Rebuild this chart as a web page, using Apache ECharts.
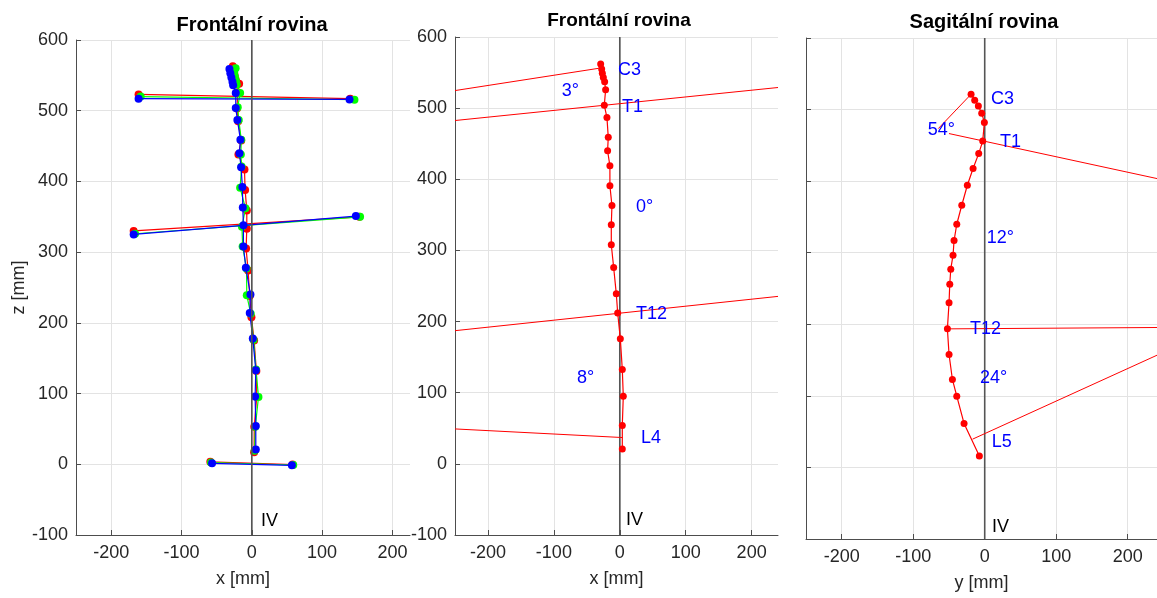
<!DOCTYPE html>
<html><head><meta charset="utf-8">
<script src="https://cdn.jsdelivr.net/npm/echarts@6/dist/echarts.min.js"></script>
<style>html,body{margin:0;padding:0;background:#fff}#c{width:1157px;height:598px}</style>
</head><body><div id="c"></div>
<script>
// ---------- DATA (x or y [mm], z [mm]) ----------
// Panel 1 – Frontální rovina, three measurements
const redSpine = [[-27,563],[-25.5,557],[-24.5,550],[-23,544],[-18,538],[-20,526],[-21,503],[-19.4,485],[-15,458],[-19,438],[-10.4,417],[-9.5,388],[-7.1,359],[-7.1,333],[-8.1,305],[-5.2,274],[-3,238],[-0.5,208],[3.3,175],[6.5,132],[7,95],[3.5,53],[3.3,17]];
const greenSpine = [[-23,560],[-25,554],[-24,548],[-22.5,542],[-21.5,537],[-16.6,525],[-20,505],[-18.5,487],[-15,459],[-15.6,438],[-14.5,421],[-16.6,391],[-9,362],[-14,336],[-13,308],[-7.5,277],[-7.1,239],[-1.5,213],[2.5,176],[6,134],[9.5,95],[5,53],[4,19]];
const blueSpine = [[-31.8,559],[-30.5,553],[-29,547],[-27.5,541],[-26.5,536],[-22.8,525],[-22.8,504],[-20.5,487],[-16.2,459],[-17.6,440],[-15.2,420],[-13.4,392],[-12.8,363],[-11.9,338],[-11.9,308],[-8.5,278],[-1.9,240],[-2.9,214],[1.4,178],[5.7,133],[4.7,96],[5.7,54],[5.7,21]];
const redShoulders = [[-161,523],[140,517]];
const greenShoulders = [[-158,520],[146,515.5]];
const blueShoulders = [[-161,517],[139,516]];
const redScapulae = [[-168,330],[153,350]];
const greenScapulae = [[-166,326],[154,350]];
const blueScapulae = [[-168,325],[148,351]];
const redPelvis = [[-59,3.5],[58,-0.3]];
const greenPelvis = [[-58,2.5],[59,-1]];
const bluePelvis = [[-56.5,1.4],[57,-1.4]];

// Panel 2 – Frontální rovina (spine + reference lines)
const frontSpine = [[-29,562],[-27.5,555],[-26.5,549],[-25,543],[-23,537],[-21.5,526],[-23.5,504],[-19.5,487],[-17.5,459],[-18.5,440],[-15,419],[-15,391],[-11.9,363],[-12.9,336],[-12.9,308],[-9.3,276],[-5.3,239],[-3.2,212],[0.8,176],[3.8,132.5],[5.3,95],[3.8,54],[3.8,21]];
const frontC3Line = [[-250,524.7],[-32,556]];
const frontT1Line = [[-250,482.6],[240,529]];
const frontT12Line = [[-250,187.2],[240,235.4]];
const frontL4Line = [[-250,49.1],[3.8,37]];
const frontLabels = [[-2.7,553.8,'C3'],[-87.9,524.6,'3°'],[3.3,501.8,'T1'],[24.6,361.4,'0°'],[24.6,211.1,'T12'],[-65.1,121.2,'8°'],[32.2,36.9,'L4']];

// Panel 3 – Sagitální rovina
const sagSpine = [[-19.1,521.4],[-14,513],[-8.9,505],[-4.2,495],[-0.5,482],[-2.8,456],[-8.4,438.5],[-16.3,417.6],[-24.3,394.3],[-32.1,366.3],[-39.1,339.8],[-42.9,317],[-44.3,296.5],[-47.5,277],[-48.9,256],[-49.9,230],[-52.2,193.6],[-49.9,157.8],[-45.2,122.9],[-39.1,99.6],[-28.9,61.5],[-7.5,15.8]];
const sagC3Line = [[-19.1,521.4],[-65,473.4]];
const sagT1Line = [[-50,466.5],[241,403.6]];
const sagT12Line = [[-52.2,193.6],[241,195.5]];
const sagL5Line = [[-17,39.5],[241,156.8]];
const sagLabels = [[8.8,514.4,'C3'],[-79.6,471.8,'54°'],[21.4,455,'T1'],[2.8,320.3,'12°'],[-20.5,193.9,'T12'],[-6.6,124.7,'24°'],[9.8,36,'L5']];

// Vertical reference axis "IV"
const ivLine = [[0,-100],[0,600]];
const ivLabel1 = [[13.2,-80.6,'IV']];
const ivLabel2 = [[9.4,-79.6,'IV']];
const ivLabel3 = [[10.2,-83.4,'IV']];

// ---------- CHART ----------
const FONT = '"Liberation Sans", Arial, Helvetica, sans-serif';
const AX = '#4d4d4d', TXT = '#262626', GRID = '#e3e3e3';
const chart = echarts.init(document.getElementById('c'));

function xAxis(gi, min, max, name) {
  return {type:'value', gridIndex:gi, min:min, max:max, name:name, nameLocation:'middle', nameGap:35,
    nameTextStyle:{fontSize:18, color:TXT, fontFamily:FONT},
    axisLine:{show:true, onZero:false, lineStyle:{color:AX, width:1}},
    axisTick:{show:true, inside:true, length:5, lineStyle:{color:AX}},
    axisLabel:{fontSize:18, color:TXT, margin:9, fontFamily:FONT, showMinLabel:false, showMaxLabel:false},
    splitLine:{show:true, showMinLine:false, showMaxLine:false, lineStyle:{color:GRID, width:1}}};
}
function yAxis(gi, showLabels, name) {
  return {type:'value', gridIndex:gi, min:-100, max:600, name:name||'', nameLocation:'middle', nameGap:48,
    nameTextStyle:{fontSize:18, color:TXT, fontFamily:FONT},
    axisLine:{show:true, onZero:false, lineStyle:{color:AX, width:1}},
    axisTick:{show:true, inside:true, length:5, lineStyle:{color:AX}},
    axisLabel:{show:showLabels, fontSize:18, color:TXT, margin:8, fontFamily:FONT},
    splitLine:{show:true, showMinLine:false, lineStyle:{color:GRID, width:1}}};
}
function line(gi, data, color, size, z) {
  return {type:'line', xAxisIndex:gi, yAxisIndex:gi, data:data, symbol:'circle', symbolSize:size,
    showSymbol:true, itemStyle:{color:color, opacity:1}, lineStyle:{color:color, width:1.2}, z:z||2, silent:true, animation:false};
}
function plain(gi, data, color, z, w) {
  return {type:'line', xAxisIndex:gi, yAxisIndex:gi, data:data, symbol:'none', lineStyle:{color:color, width:w||1}, z:z||2, silent:true, animation:false};
}
function labels(gi, data, color) {
  return {type:'scatter', xAxisIndex:gi, yAxisIndex:gi, data:data, symbolSize:0, z:10, silent:true, animation:false,
    itemStyle:{opacity:1},
    label:{show:true, position:'right', distance:0, color:color, opacity:1, fontSize:18, fontFamily:FONT,
      formatter:function(p){return p.value[2];}}};
}

const series = [];
// panel 1
series.push(line(0, redSpine, '#ff0000', 8, 2));
series.push(line(0, redShoulders, '#ff0000', 8, 2));
series.push(line(0, redScapulae, '#ff0000', 8, 2));
series.push(line(0, redPelvis, '#ff0000', 8, 2));
series.push(line(0, greenSpine, '#00ff00', 8, 3));
series.push(line(0, greenShoulders, '#00ff00', 8, 3));
series.push(line(0, greenScapulae, '#00ff00', 8, 3));
series.push(line(0, greenPelvis, '#00ff00', 8, 3));
series.push(line(0, blueSpine, '#0000ff', 8, 4));
series.push(line(0, blueShoulders, '#0000ff', 8, 4));
series.push(line(0, blueScapulae, '#0000ff', 8, 4));
series.push(line(0, bluePelvis, '#0000ff', 8, 4));
series.push(plain(0, ivLine, '#555555', 5, 1.6));
series.push(labels(0, ivLabel1, '#000000'));
// panel 2
series.push(plain(1, frontC3Line, '#ff0000'));
series.push(plain(1, frontT1Line, '#ff0000'));
series.push(plain(1, frontT12Line, '#ff0000'));
series.push(plain(1, frontL4Line, '#ff0000'));
series.push(plain(1, ivLine, '#555555', 1, 1.6));
series.push(line(1, frontSpine, '#ff0000', 7, 3));
series.push(labels(1, frontLabels, '#0000ff'));
series.push(labels(1, ivLabel2, '#000000'));
// panel 3
series.push(plain(2, sagC3Line, '#ff0000'));
series.push(plain(2, sagT1Line, '#ff0000'));
series.push(plain(2, sagT12Line, '#ff0000'));
series.push(plain(2, sagL5Line, '#ff0000'));
series.push(plain(2, ivLine, '#555555', 1, 1.6));
series.push(line(2, sagSpine, '#ff0000', 7, 3));
series.push(labels(2, sagLabels, '#0000ff'));
series.push(labels(2, ivLabel3, '#000000'));

chart.setOption({
  animation:false,
  backgroundColor:'#ffffff',
  textStyle:{fontFamily:FONT},
  grid:[
    {left:76, top:40, width:334, height:495},
    {left:455, top:37, width:323, height:498},
    {left:806, top:38, width:351, height:501}
  ],
  xAxis:[xAxis(0,-250,225,'x [mm]'), xAxis(1,-250,240,'x [mm]'), xAxis(2,-250,241,'y [mm]')],
  yAxis:[yAxis(0,true,'z [mm]'), yAxis(1,true,''), yAxis(2,false,'')],
  graphic:[
    {type:'text', x:252, y:25, style:{text:'Frontální rovina', fill:'#000', font:'bold 20px '+FONT, align:'center', verticalAlign:'middle', textAlign:'center', textVerticalAlign:'middle'}},
    {type:'text', x:619, y:21, style:{text:'Frontální rovina', fill:'#000', font:'bold 19px '+FONT, align:'center', verticalAlign:'middle', textAlign:'center', textVerticalAlign:'middle'}},
    {type:'text', x:984, y:22, style:{text:'Sagitální rovina', fill:'#000', font:'bold 20px '+FONT, align:'center', verticalAlign:'middle', textAlign:'center', textVerticalAlign:'middle'}}
  ],
  series:series
});
</script></body></html>
